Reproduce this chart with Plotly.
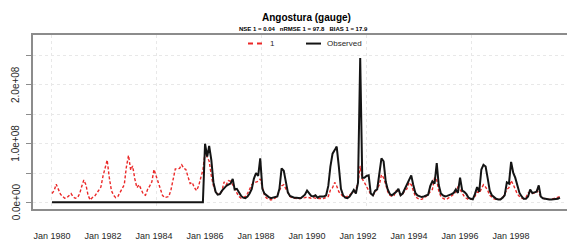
import pandas as pd
import plotly.graph_objects as go

# ---------------- data (units of 1e8, monthly Jan 1980 .. Dec 1999) ----------------
start_month = "1980-01-01"
end_month = "1999-12-01"
scale = 1e8

sim_1 = [
    # 1980
    0.15, 0.20, 0.31, 0.22, 0.14, 0.10, 0.07, 0.08, 0.12, 0.15, 0.09, 0.07,
    # 1981
    0.08, 0.15, 0.27, 0.38, 0.30, 0.12, 0.04, 0.08, 0.10, 0.15, 0.20, 0.26,
    # 1982
    0.45, 0.60, 0.72, 0.42, 0.20, 0.12, 0.08, 0.10, 0.16, 0.22, 0.30, 0.60,
    # 1983
    0.80, 0.55, 0.62, 0.40, 0.25, 0.30, 0.22, 0.14, 0.12, 0.22, 0.28, 0.35,
    # 1984
    0.56, 0.45, 0.35, 0.20, 0.12, 0.08, 0.09, 0.10, 0.22, 0.42, 0.57, 0.57,
    # 1985
    0.58, 0.64, 0.58, 0.56, 0.42, 0.32, 0.34, 0.25, 0.20, 0.28, 0.42, 0.55,
    # 1986
    0.85, 0.78, 0.70, 0.45, 0.28, 0.18, 0.14, 0.14, 0.20, 0.35, 0.30, 0.37,
    # 1987
    0.36, 0.30, 0.22, 0.16, 0.10, 0.07, 0.08, 0.10, 0.15, 0.22, 0.30, 0.33,
    # 1988
    0.34, 0.36, 0.40, 0.23, 0.12, 0.07, 0.05, 0.04, 0.06, 0.07, 0.12, 0.20,
    # 1989
    0.28, 0.30, 0.24, 0.15, 0.10, 0.08, 0.07, 0.06, 0.06, 0.07, 0.07, 0.08,
    # 1990
    0.09, 0.08, 0.07, 0.08, 0.07, 0.06, 0.07, 0.06, 0.07, 0.08, 0.10, 0.21,
    # 1991
    0.25, 0.34, 0.28, 0.18, 0.14, 0.10, 0.09, 0.10, 0.12, 0.16, 0.18, 0.22,
    # 1992
    0.34, 0.62, 0.40, 0.34, 0.26, 0.20, 0.14, 0.12, 0.17, 0.23, 0.30, 0.47,
    # 1993
    0.42, 0.30, 0.18, 0.12, 0.10, 0.12, 0.20, 0.18, 0.12, 0.14, 0.20, 0.23,
    # 1994
    0.34, 0.30, 0.20, 0.10, 0.07, 0.05, 0.05, 0.07, 0.10, 0.14, 0.18, 0.22,
    # 1995
    0.42, 0.38, 0.20, 0.10, 0.07, 0.05, 0.06, 0.08, 0.11, 0.14, 0.18, 0.26,
    # 1996
    0.22, 0.16, 0.10, 0.07, 0.05, 0.05, 0.06, 0.10, 0.18, 0.16, 0.22, 0.30,
    # 1997
    0.26, 0.20, 0.12, 0.08, 0.06, 0.05, 0.05, 0.05, 0.07, 0.15, 0.22, 0.25,
    # 1998
    0.37, 0.30, 0.22, 0.14, 0.10, 0.07, 0.06, 0.08, 0.16, 0.18, 0.15, 0.16,
    # 1999
    0.20, 0.16, 0.10, 0.07, 0.06, 0.05, 0.05, 0.05, 0.06, 0.07, 0.08, 0.10,
]

observed = [
    # 1980-1985 (no gauge record, plotted as zero)
    0, 0, 0, 0, 0, 0, 0, 0, 0, 0, 0, 0,
    0, 0, 0, 0, 0, 0, 0, 0, 0, 0, 0, 0,
    0, 0, 0, 0, 0, 0, 0, 0, 0, 0, 0, 0,
    0, 0, 0, 0, 0, 0, 0, 0, 0, 0, 0, 0,
    0, 0, 0, 0, 0, 0, 0, 0, 0, 0, 0, 0,
    0, 0, 0, 0, 0, 0, 0, 0, 0, 0, 0, 0,
    # 1986
    1.00, 0.78, 0.96, 0.72, 0.34, 0.18, 0.13, 0.14, 0.20, 0.25, 0.28, 0.30,
    # 1987
    0.32, 0.40, 0.22, 0.23, 0.17, 0.11, 0.08, 0.07, 0.10, 0.15, 0.23, 0.40,
    # 1988
    0.50, 0.45, 0.75, 0.23, 0.15, 0.11, 0.09, 0.07, 0.08, 0.08, 0.10, 0.23,
    # 1989
    0.58, 0.54, 0.34, 0.17, 0.11, 0.09, 0.08, 0.08, 0.08, 0.07, 0.10, 0.13,
    # 1990
    0.20, 0.15, 0.11, 0.10, 0.12, 0.08, 0.10, 0.10, 0.10, 0.12, 0.28, 0.61,
    # 1991
    0.83, 0.89, 0.95, 0.61, 0.23, 0.12, 0.08, 0.07, 0.10, 0.15, 0.21, 0.15,
    # 1992
    0.34, 2.46, 0.42, 0.42, 0.45, 0.46, 0.15, 0.12, 0.20, 0.22, 0.45, 0.75,
    # 1993
    0.70, 0.35, 0.22, 0.14, 0.12, 0.15, 0.18, 0.23, 0.12, 0.15, 0.23, 0.32,
    # 1994
    0.38, 0.46, 0.30, 0.16, 0.12, 0.10, 0.09, 0.10, 0.12, 0.13, 0.28, 0.36,
    # 1995
    0.32, 0.67, 0.30, 0.15, 0.12, 0.10, 0.11, 0.12, 0.14, 0.16, 0.22, 0.16,
    # 1996
    0.42, 0.20, 0.18, 0.14, 0.08, 0.06, 0.05, 0.14, 0.26, 0.18, 0.56, 0.64,
    # 1997
    0.61, 0.40, 0.20, 0.12, 0.09, 0.06, 0.05, 0.05, 0.08, 0.12, 0.34, 0.32,
    # 1998
    0.69, 0.50, 0.42, 0.26, 0.16, 0.10, 0.06, 0.06, 0.10, 0.22, 0.16, 0.17,
    # 1999
    0.18, 0.29, 0.10, 0.07, 0.06, 0.05, 0.05, 0.05, 0.05, 0.06, 0.06, 0.08,
]

x_tick_dates = ["1980-01-01", "1982-01-01", "1984-01-01", "1986-01-01", "1988-01-01",
                "1990-01-01", "1992-01-01", "1994-01-01", "1996-01-01", "1998-01-01"]
x_tick_labels = ["Jan 1980", "Jan 1982", "Jan 1984", "Jan 1986", "Jan 1988",
                 "Jan 1990", "Jan 1992", "Jan 1994", "Jan 1996", "Jan 1998"]
y_tick_values = [0, 0.5e8, 1.0e8, 1.5e8, 2.0e8, 2.5e8]
y_label_values = [0, 1.0e8, 2.0e8]
y_label_texts = ["0.0e+00", "1.0e+08", "2.0e+08"]
v_grid_dates = ["1980-01-01", "1984-02-10", "1988-03-25", "1992-05-07", "1996-06-19"]

title_text = "<b>Angostura (gauge)</b>"
subtitle_text = "<b>NSE 1 = 0.04   nRMSE 1 = 97.8   BIAS 1 = 17.9</b>"
series_names = ["1", "Observed"]

# ---------------- figure ----------------
dates = pd.date_range(start_month, end_month, freq="MS")
sim_vals = [v * scale for v in sim_1]
obs_vals = [v * scale for v in observed]

RED = "rgb(235,40,40)"
BLACK = "rgb(20,20,20)"
AXIS = "rgb(140,140,140)"
GRID = "rgb(232,232,232)"
TXT = "rgb(40,40,40)"
FONT = "Liberation Sans, Arial, sans-serif"

fig = go.Figure()
fig.add_trace(go.Scatter(x=dates, y=sim_vals, mode="lines", name=series_names[0],
                         line=dict(color=RED, width=1.4, dash="3px,2px"),
                         showlegend=False))
fig.add_trace(go.Scatter(x=dates, y=obs_vals, mode="lines", name=series_names[1],
                         line=dict(color=BLACK, width=2.0),
                         showlegend=False))

# page is rendered with the browser's default 8px body margin
OFF = 8
W, H = 575, 241
PL, PR, PT, PB = 33, 575, 35, 218          # plot box in page pixels
L, T = PL - OFF, PT - OFF
R = W - (PR - OFF)
B = H - (PB - OFF)
pw, ph = PR - PL, PB - PT


def px(x):
    return (x - PL) / pw


def py(y):
    return (PB - y) / ph


fig.update_layout(
    width=W, height=H,
    margin=dict(l=L, r=R, t=T, b=B, pad=0),
    paper_bgcolor="white", plot_bgcolor="white",
    font=dict(family=FONT, color=TXT),
    showlegend=False,
)

fig.update_xaxes(
    range=["1979-04-04", "2000-07-04"],
    showline=True, linecolor=AXIS, linewidth=1.5, mirror=True,
    ticks="", tickvals=x_tick_dates, ticktext=x_tick_labels,
    tickfont=dict(size=9, color=TXT),
    ticklabelstandoff=17,
    showgrid=False, zeroline=False,
    minor=dict(tickvals=v_grid_dates, showgrid=True, gridcolor=GRID,
               griddash="dot", gridwidth=1, ticks=""),
)
fig.update_yaxes(
    range=[-0.1134e8, 2.852e8],
    showline=True, linecolor=AXIS, linewidth=1.5, mirror=False,
    ticks="outside", ticklen=5, tickcolor=AXIS, tickwidth=1.2,
    tickvals=y_tick_values, showticklabels=False,
    showgrid=True, gridcolor=GRID, griddash="dot", gridwidth=1,
    zeroline=False,
)

annotations = [
    dict(text=title_text, x=px(306), y=py(17), xref="paper", yref="paper",
         showarrow=False, xanchor="center", yanchor="middle",
         font=dict(size=10, color="black", family=FONT)),
    dict(text=subtitle_text, x=px(303), y=py(29), xref="paper", yref="paper",
         showarrow=False, xanchor="center", yanchor="middle",
         font=dict(size=6, color="black", family=FONT)),
    dict(text=series_names[0], x=px(268), y=py(44), xref="paper", yref="paper",
         showarrow=False, xanchor="left", yanchor="middle",
         font=dict(size=8, color=TXT, family=FONT)),
    dict(text=series_names[1], x=px(325), y=py(44), xref="paper", yref="paper",
         showarrow=False, xanchor="left", yanchor="middle",
         font=dict(size=8, color=TXT, family=FONT)),
]
# rotated y tick labels (R style, parallel to the axis)
for val, lab in zip(y_label_values, y_label_texts):
    annotations.append(dict(text=lab, x=px(16), y=val, xref="paper", yref="y",
                            showarrow=False, textangle=-90,
                            xanchor="center", yanchor="middle",
                            font=dict(size=10, color=TXT, family=FONT)))

shapes = [
    dict(type="line", xref="paper", yref="paper", x0=px(248), x1=px(264),
         y0=py(44), y1=py(44), line=dict(color=RED, width=2, dash="5px,4px")),
    dict(type="line", xref="paper", yref="paper", x0=px(306), x1=px(321),
         y0=py(44), y1=py(44), line=dict(color=BLACK, width=2)),
]
fig.update_layout(annotations=annotations, shapes=shapes)

fig.write_html("out.html")
